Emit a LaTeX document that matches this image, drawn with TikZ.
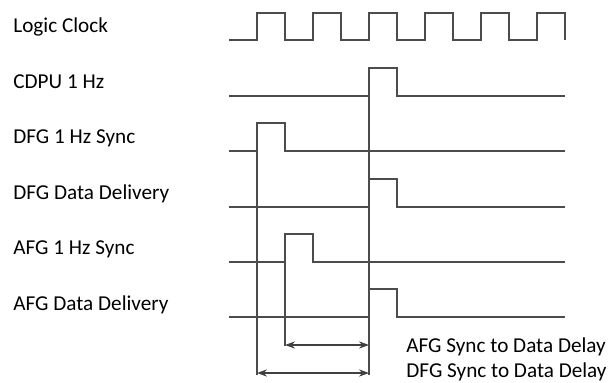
\documentclass[tikz,border=0pt]{standalone}
\usepackage{fontspec}
\setmainfont{Carlito}
\usetikzlibrary{arrows.meta}

\tikzset{
  wave/.style={draw=black!70, line width=0.6pt, line join=miter},
  guide/.style={draw=black!70, line width=0.6pt},
  delay/.style={draw=black!75, line width=0.6pt,
    {Stealth[length=5pt,width=3.6pt]}-{Stealth[length=5pt,width=3.6pt]}},
  siglabel/.style={anchor=base west, inner sep=0pt, font=\fontsize{10.6}{12.7}\selectfont},
}

\begin{document}
\begin{tikzpicture}[x=0.5pt, y=-0.5pt]
    \useasboundingbox (0,0) rectangle (614,383);

    % Signal names
    \node[siglabel] (clk)   at (13,33)  {Logic Clock};
    \node[siglabel] (cdpu)  at (13,89)  {CDPU 1 Hz};
    \node[siglabel] (dsync) at (13,144) {DFG 1 Hz Sync};
    \node[siglabel] (ddata) at (13,200) {DFG Data Delivery};
    \node[siglabel] (async) at (13,255) {AFG 1 Hz Sync};
    \node[siglabel] (adata) at (13,311) {AFG Data Delivery};

    % Logic clock (six periods)
    \draw[wave] (229,40)
        \foreach \i in {0,...,5} {
            -- ({257+56*\i},40) -- ({257+56*\i},13)
            -- ({285+56*\i},13) -- ({285+56*\i},40)
        };

    % One pulse per line: low level / rising edge
    \foreach \low/\rise in {96/369, 151/257, 207/369, 262/285, 317/369}
        \draw[wave] (229,\low) -- (\rise,\low) -- (\rise,{\low-28})
            -- ({\rise+28},{\low-28}) -- ({\rise+28},\low) -- (565,\low);

    % Edge markers for the delays
    \coordinate (dfgtop)  at (257,123);
    \coordinate (afgtop)  at (285,234);
    \coordinate (cdputop) at (369,68);
    \coordinate (dfgend)  at (257,375);
    \coordinate (afgend)  at (285,346);
    \coordinate (cdpuend) at (369,375);
    \coordinate (afgleft)  at (285,345);
    \coordinate (afgright) at (369,345);
    \coordinate (dfgleft)  at (257,373);
    \coordinate (dfgright) at (369,373);

    \draw[guide] (dfgtop) -- (dfgend);
    \draw[guide] (afgtop) -- (afgend);
    \draw[guide] (cdputop) -- (cdpuend);

    % Delay arrows
    \draw[delay] (afgleft) -- (afgright);
    \draw[delay] (dfgleft) -- (dfgright);

    \node[siglabel] (afgdelay) at (406,353) {AFG Sync to Data Delay};
    \node[siglabel] (dfgdelay) at (406,378) {DFG Sync to Data Delay};
\end{tikzpicture}
\end{document}
